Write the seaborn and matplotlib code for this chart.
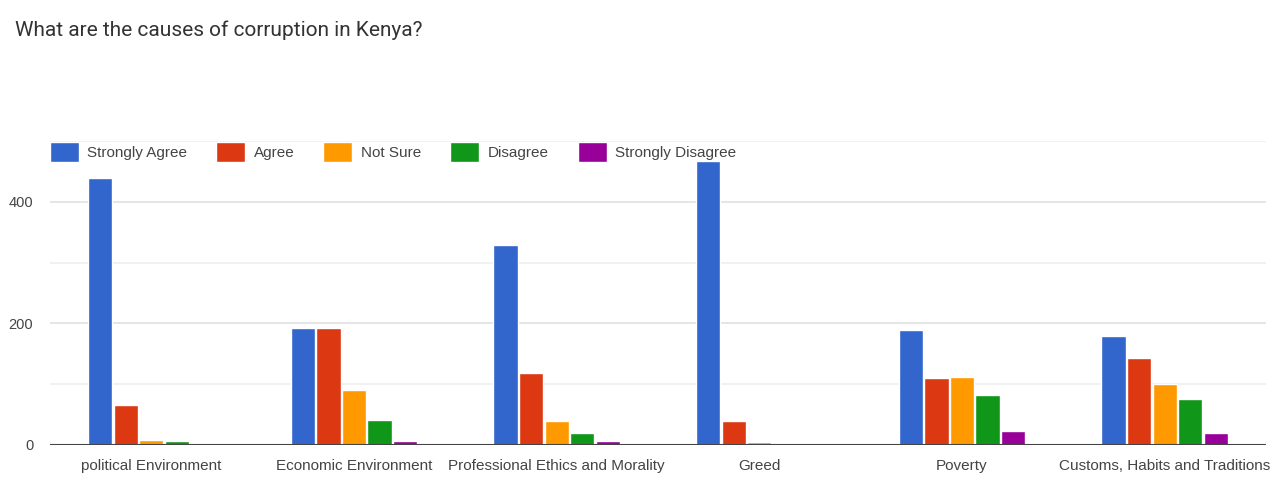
import numpy as np
import pandas as pd
import matplotlib
matplotlib.use("Agg")
import matplotlib.pyplot as plt
import seaborn as sns

causes = ["political Environment", "Economic Environment", "Professional Ethics and Morality",
          "Greed", "Poverty", "Customs, Habits and Traditions"]
responses = ["Strongly Agree", "Agree", "Not Sure", "Disagree", "Strongly Disagree"]
strongly_agree = [439, 193, 329, 467, 189, 179]
agree = [66, 193, 118, 40, 110, 143]
not_sure = [8, 90, 40, 5, 112, 100]
disagree = [6, 41, 20, 2, 82, 76]
strongly_disagree = [0, 6, 6, 0, 23, 20]
colors = ["#3366cc", "#dc3912", "#ff9900", "#109618", "#990099"]

rows = []
for resp, vals in zip(responses, [strongly_agree, agree, not_sure, disagree, strongly_disagree]):
    for c, v in zip(causes, vals):
        rows.append({"cause": c, "response": resp, "count": v})
df = pd.DataFrame(rows)

sns.set_style("white")
plt.rcParams['font.family'] = ['Liberation Sans', 'DejaVu Sans']

fig = plt.figure(figsize=(12.76, 4.78), dpi=100)
ax = fig.add_axes([50/1276, 1-445/478, 1216/1276, 304/478])

sns.barplot(data=df, x="cause", y="count", hue="response", order=causes, hue_order=responses,
            palette=colors, width=0.63, gap=0.05, saturation=1, ax=ax)

ax.set_ylim(0, 500)
ax.set_xlim(-0.5, 5.5)
ax.set_yticks([0, 200, 400])
for y in [100, 200, 300, 400, 500]:
    ax.axhline(y, color="#e0e0e0" if y % 200 == 0 else "#efefef", lw=1.2, zorder=0)
ax.axhline(0, color="#444444", lw=1.5, zorder=3)
for s in ax.spines.values():
    s.set_visible(False)
ax.tick_params(axis="both", length=0, colors="#444444")
ax.tick_params(axis="y", pad=12, labelsize=10.5)
ax.tick_params(axis="x", pad=10, labelsize=11)
ax.set_xlabel("")
ax.set_ylabel("")

ax.legend(loc="center left", bbox_to_anchor=(0.039, 1-152/478), bbox_transform=fig.transFigure,
          ncol=5, frameon=False, fontsize=11, borderaxespad=0, borderpad=0,
          handlelength=1.9, handleheight=1.6, handletextpad=0.55, columnspacing=1.9,
          labelcolor="#444444")

fig.text(15/1276, 1-30/478, "What are the causes of corruption in Kenya?", fontsize=15,
         color="#333333", va="center", ha="left", family=["Roboto", "DejaVu Sans"])

fig.savefig("out.png", dpi=100)
